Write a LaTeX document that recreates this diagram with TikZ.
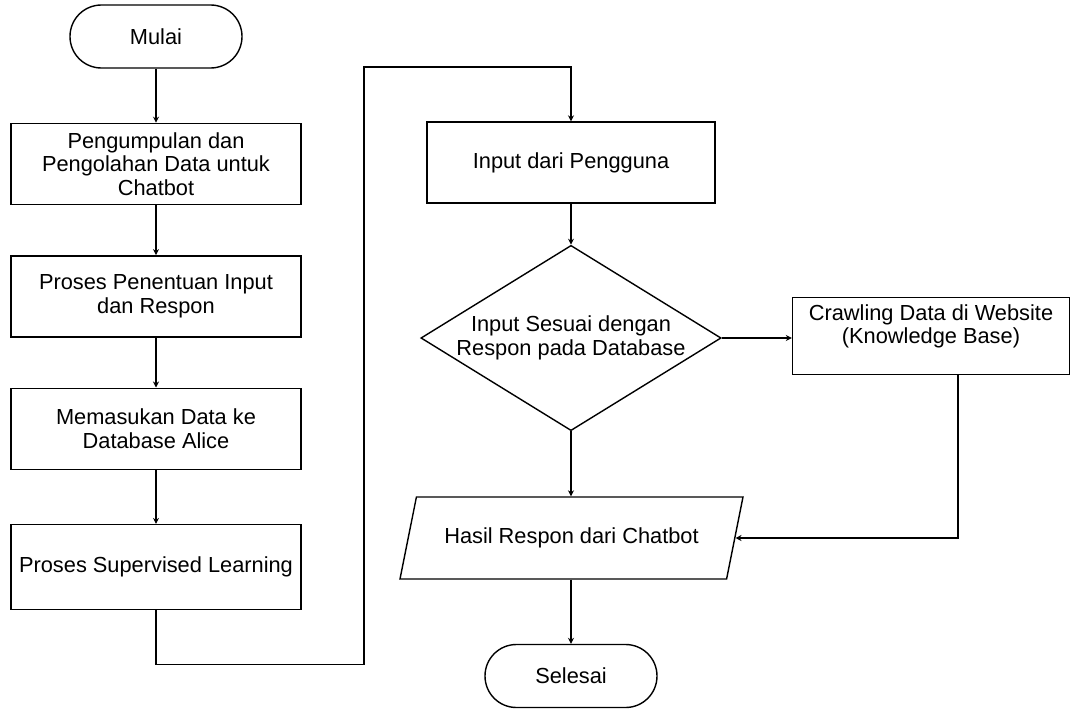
\documentclass[tikz,border=0pt]{standalone}
\usepackage{fontspec}
\setmainfont{Liberation Sans}
\usetikzlibrary{shapes.geometric, arrows.meta, positioning}
\tikzstyle{startstop} = [rectangle, rounded corners=15.7pt, minimum width=86pt, minimum height=31.5pt, text centered, draw=black]
\tikzstyle{process} = [rectangle, minimum width=145pt, minimum height=40.5pt, align=center, draw=black]
\tikzstyle{decision} = [diamond, aspect=1.62, inner sep=0pt, align=center, draw=black]
\tikzstyle{io} = [trapezium, trapezium left angle=64, trapezium right angle=116, trapezium stretches body, minimum width=171.5pt, minimum height=41pt, text centered, draw=black]
\tikzstyle{arrow} = [-{Stealth[length=3pt,width=3pt]}]

\begin{document}
\begin{tikzpicture}[x=0.5pt, y=-0.5pt, line width=0.7pt, node distance=25pt, font=\fontsize{10.9}{11.8}\selectfont]
    \useasboundingbox (0,0) rectangle (1077,712);
    \node (start) [startstop] at (156,36.5) {Mulai};
    \node (collect) [process, below=27pt of start] {Pengumpulan dan\\Pengolahan Data untuk\\Chatbot};
    \node (define) [process, below=of collect] {Proses Penentuan Input\\dan Respon};
    \node (insert) [process, below=of define] {Memasukan Data ke\\Database Alice};
    \node (learn) [process, below=27pt of insert, minimum height=42.5pt] {Proses Supervised Learning};
    \node (input) [process, minimum width=144pt] at (571,162.5) {Input dari Pengguna};
    \node (match) [decision] at (571,338) {Input Sesuai dengan\\Respon pada Database};
    \node (crawl) [process, minimum width=138.5pt, minimum height=38.5pt, inner sep=2pt] at (931,336) {Crawling Data di Website\\(Knowledge Base)\\\mbox{}};
    \node (result) [io] at (571.5,538) {Hasil Respon dari Chatbot};
    \node (finish) [startstop] at (571,676) {Selesai};
    \coordinate (turn) at (364,67);

    \draw [arrow] (start) -- (collect);
    \draw [arrow] (collect) -- (define);
    \draw [arrow] (define) -- (insert);
    \draw [arrow] (insert) -- (learn);
    \draw [arrow] (learn.south) -- ++(0,54) -| (turn) -| (input.north);
    \draw [arrow] (input) -- (match);
    \draw [arrow] (match.east) -- (match.east -| crawl.west);
    \draw [arrow] (match.south) -- (match.south |- result.north);
    \draw [arrow] ([xshift=13.5pt]crawl.south) |- (result.east);
    \draw [arrow] (result.south -| finish.north) -- (finish.north);
\end{tikzpicture}
\end{document}
